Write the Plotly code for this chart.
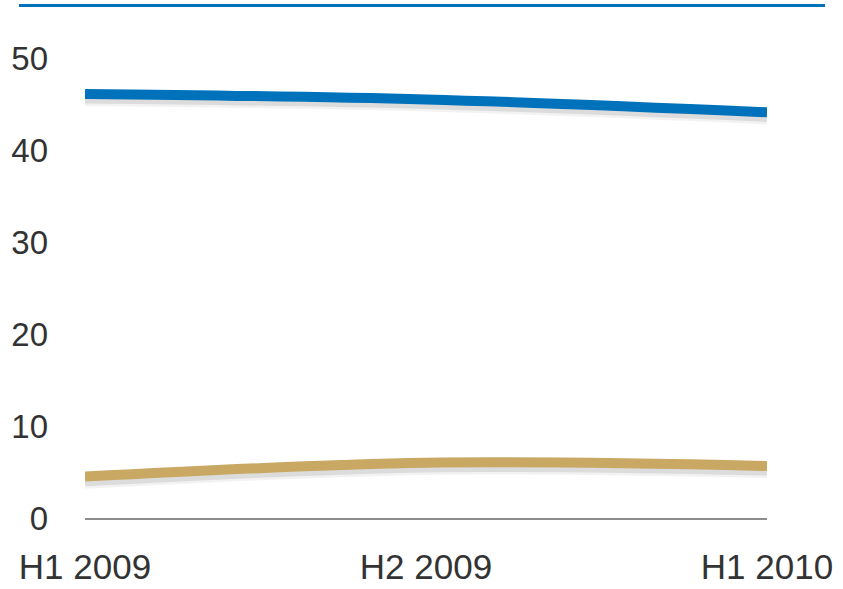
import plotly.graph_objects as go

# Half-year periods and the two series plotted against them
periods = ["H1 2009", "H2 2009", "H1 2010"]
series_blue = [46.1, 45.5, 44.1]
series_tan = [4.5, 6.0, 5.65]
y_ticks = [0, 10, 20, 30, 40, 50]

BLUE = "#0072bb"
TAN = "#c8a862"
TEXT = "#333333"
SHADOW_DROP = 0.5  # drop-shadow offset in data units

fig = go.Figure()

# soft drop shadows under each line (two layers for a faint blur)
for vals in (series_blue, series_tan):
    for width, alpha in ((15, 0.05), (10, 0.09)):
        fig.add_trace(go.Scatter(
            x=periods, y=[v - SHADOW_DROP for v in vals], mode="lines",
            line=dict(color=f"rgba(0,0,0,{alpha})", width=width, shape="spline"),
            hoverinfo="skip", showlegend=False,
        ))

fig.add_trace(go.Scatter(
    x=periods, y=series_blue, mode="lines",
    line=dict(color=BLUE, width=10, shape="spline"), showlegend=False,
))
fig.add_trace(go.Scatter(
    x=periods, y=series_tan, mode="lines",
    line=dict(color=TAN, width=10, shape="spline"), showlegend=False,
))

# blue rule across the top
fig.add_shape(type="line", xref="paper", yref="paper",
              x0=(19 - 85) / 682, x1=(825 - 85) / 682,
              y0=(518 - 5.5) / 460, y1=(518 - 5.5) / 460,
              line=dict(color=BLUE, width=3))

fig.update_layout(
    width=843, height=589,
    margin=dict(l=85, r=76, t=58, b=71),
    paper_bgcolor="white", plot_bgcolor="white",
    font=dict(family="Liberation Sans, Arial, sans-serif", color=TEXT),
    xaxis=dict(
        type="category", range=[0, 2], showgrid=False, zeroline=False,
        showline=True, linecolor="#8c8c8c", linewidth=2, automargin=False,
        ticks="", tickfont=dict(size=35), ticklabelstandoff=17,
    ),
    yaxis=dict(
        range=[0, 50], tickvals=y_ticks, showgrid=False, zeroline=False,
        showline=False, ticks="", tickfont=dict(size=33), ticklabelstandoff=36,
        automargin=False,
    ),
)

fig.write_html("out.html")
